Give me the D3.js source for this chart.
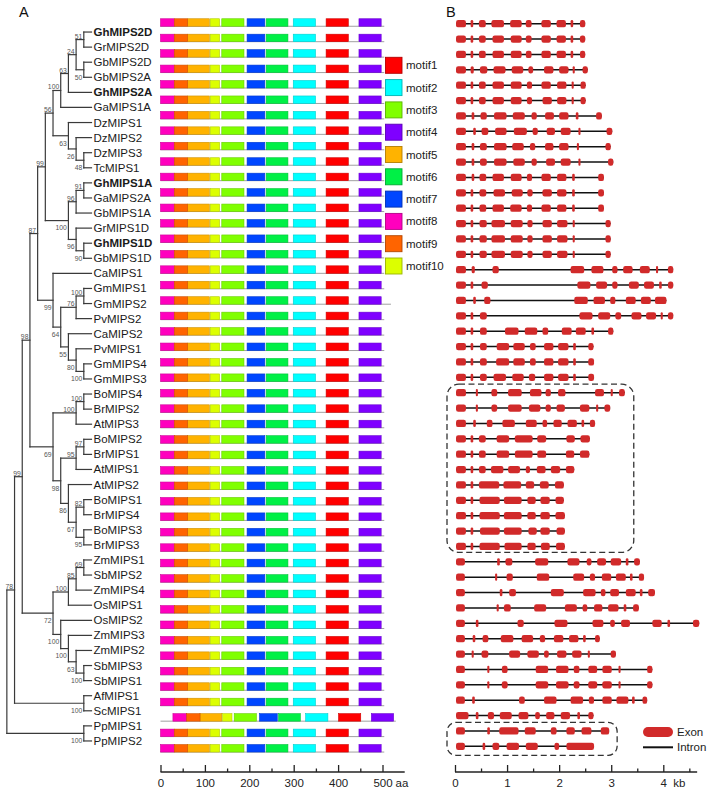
<!DOCTYPE html>
<html><head><meta charset="utf-8">
<script src="https://cdn.jsdelivr.net/npm/d3@7"></script>
<style>body{margin:0;background:#fff}svg{display:block;font-family:"Liberation Sans",Arial,sans-serif}</style>
</head><body><svg id="c" width="714" height="791"></svg>
<script>
// ---------------- DATA ----------------
const treeNewick = "(((((((((((GhMIPS2D,GrMIPS2D)51,(GbMIPS2D,GbMIPS2A)50)24,GhMIPS2A)63,GaMIPS1A)100,(DzMIPS1,(DzMIPS2,(DzMIPS3,TcMIPS1)48)26)63)56,(((GhMIPS1A,GaMIPS2A)91,GbMIPS1A)96,(GrMIPS1D,(GhMIPS1D,GbMIPS1D)90)96)100)99,(CaMIPS1,(((GmMIPS1,GmMIPS2)100,PvMIPS2)76,(CaMIPS2,(PvMIPS1,(GmMIPS4,GmMIPS3)100)80)55)64)99)87,(((BoMIPS4,BrMIPS2)100,AtMIPS3)100,(((BoMIPS2,BrMIPS1)97,AtMIPS1)95,(AtMIPS2,((BoMIPS1,BrMIPS4)82,(BoMIPS3,BrMIPS3)95)67)86)98)69)98,((((ZmMIPS1,SbMIPS2)69,ZmMIPS4)85,OsMIPS1)100,(OsMIPS2,(ZmMIPS3,(ZmMIPS2,(SbMIPS3,SbMIPS1)100)63)100)100)72)99,(AfMIPS1,ScMIPS1)100)78,(PpMIPS1,PpMIPS2)100);";
const boldTaxa = ["GhMIPS2D","GhMIPS2A","GhMIPS1A","GhMIPS1D"];

const motifNames  = ["motif1","motif2","motif3","motif4","motif5","motif6","motif7","motif8","motif9","motif10"];
const motifColors = ["#ff0000","#00ffff","#80ff00","#7f00ff","#ffb300","#00f046","#0046ff","#ff00be","#ff6400","#dcff00"];
const motifStart  = [373, 299, 138, 447,  61, 238, 195,  0, 31, 112];
const motifEnd    = [423, 349, 188, 497, 110, 287, 235, 31, 61, 133];
// protein length (aa) and motif shift (aa) for proteins that differ from the common layout
const proteinLength = {default: 504, GmMIPS2: 519, ScMIPS1: 530};
const motifShift    = {default: 0, ScMIPS1: 28};

const aaTicks = [0,100,200,300,400,500];
const aaMinor = [50,150,250,350,450];
const kbTicks = [0,1,2,3,4];
const kbMinor = [0.5,1.5,2.5,3.5,4.5];

const geneExons = {
GhMIPS2D:[[0.02,0.21],[0.30,0.35],[0.46,0.59],[0.70,0.94],[1.06,1.28],[1.36,1.47],[1.66,1.84],[1.95,2.13],[2.22,2.27],[2.40,2.50]],
GrMIPS2D:[[0.02,0.21],[0.30,0.35],[0.46,0.59],[0.72,0.94],[1.07,1.28],[1.36,1.47],[1.66,1.84],[1.95,2.13],[2.22,2.27],[2.40,2.50]],
GbMIPS2D:[[0.02,0.21],[0.30,0.35],[0.46,0.59],[0.72,0.94],[1.07,1.28],[1.36,1.47],[1.66,1.84],[1.95,2.13],[2.22,2.27],[2.40,2.50]],
GbMIPS2A:[[0.02,0.21],[0.30,0.36],[0.48,0.62],[0.74,0.97],[1.09,1.31],[1.41,1.50],[1.71,1.89],[2.00,2.18],[2.26,2.30],[2.45,2.55]],
GhMIPS2A:[[0.02,0.21],[0.30,0.35],[0.46,0.59],[0.72,0.94],[1.07,1.28],[1.38,1.48],[1.66,1.84],[1.96,2.14],[2.24,2.28],[2.41,2.51]],
GaMIPS1A:[[0.02,0.21],[0.30,0.35],[0.46,0.59],[0.72,0.94],[1.07,1.28],[1.38,1.48],[1.68,1.86],[1.96,2.14],[2.24,2.28],[2.41,2.51]],
DzMIPS1:[[0.02,0.21],[0.32,0.37],[0.49,0.61],[0.75,0.99],[1.11,1.34],[1.47,1.57],[1.73,1.90],[2.00,2.18],[2.32,2.37],[2.71,2.82]],
DzMIPS2:[[0.02,0.21],[0.35,0.40],[0.51,0.64],[0.77,0.99],[1.13,1.38],[1.49,1.59],[1.76,1.92],[2.03,2.22],[2.37,2.41],[2.91,3.02]],
DzMIPS3:[[0.02,0.21],[0.32,0.37],[0.48,0.61],[0.75,0.99],[1.10,1.32],[1.44,1.54],[1.73,1.89],[2.00,2.18],[2.34,2.38],[2.89,2.99]],
TcMIPS1:[[0.02,0.21],[0.32,0.37],[0.48,0.61],[0.75,0.99],[1.12,1.34],[1.47,1.57],[1.75,1.92],[2.03,2.22],[2.37,2.41],[2.94,3.04]],
GhMIPS1A:[[0.02,0.21],[0.32,0.37],[0.47,0.60],[0.72,0.94],[1.07,1.28],[1.38,1.48],[1.66,1.84],[1.96,2.14],[2.25,2.30],[2.75,2.86]],
GaMIPS2A:[[0.02,0.21],[0.30,0.35],[0.47,0.60],[0.74,0.96],[1.09,1.30],[1.39,1.49],[1.68,1.86],[1.96,2.14],[2.25,2.30],[2.75,2.86]],
GbMIPS1A:[[0.02,0.21],[0.30,0.35],[0.47,0.60],[0.72,0.94],[1.06,1.28],[1.38,1.48],[1.66,1.84],[1.96,2.14],[2.25,2.30],[2.75,2.86]],
GrMIPS1D:[[0.02,0.21],[0.30,0.35],[0.47,0.61],[0.70,0.96],[1.07,1.30],[1.39,1.49],[1.68,1.86],[1.96,2.16],[2.26,2.30],[2.89,2.99]],
GhMIPS1D:[[0.02,0.21],[0.30,0.35],[0.47,0.61],[0.70,0.96],[1.07,1.30],[1.39,1.49],[1.68,1.86],[1.96,2.16],[2.26,2.30],[2.89,2.99]],
GbMIPS1D:[[0.02,0.21],[0.30,0.35],[0.47,0.61],[0.70,0.96],[1.07,1.30],[1.39,1.49],[1.68,1.86],[1.96,2.16],[2.26,2.30],[2.89,2.99]],
CaMIPS1:[[0.02,0.21],[0.32,0.38],[0.72,0.84],[2.22,2.48],[2.62,2.85],[3.02,3.12],[3.23,3.41],[3.55,3.74],[3.86,3.90],[4.09,4.19]],
GmMIPS1:[[0.02,0.21],[0.30,0.35],[0.51,0.63],[2.35,2.60],[2.71,2.92],[3.02,3.12],[3.34,3.53],[3.63,3.82],[3.92,3.97],[4.09,4.19]],
GmMIPS2:[[0.02,0.21],[0.35,0.40],[0.56,0.68],[2.29,2.55],[2.66,2.88],[2.98,3.08],[3.28,3.47],[3.57,3.76],[3.84,4.06]],
PvMIPS2:[[0.02,0.21],[0.30,0.35],[0.48,0.61],[2.39,2.64],[2.75,2.98],[3.08,3.19],[3.39,3.58],[3.67,3.86],[3.95,3.99],[4.09,4.19]],
CaMIPS2:[[0.02,0.21],[0.30,0.35],[0.48,0.61],[0.96,1.22],[1.34,1.58],[1.68,1.79],[2.05,2.24],[2.32,2.51],[2.62,2.67],[2.94,3.04]],
PvMIPS1:[[0.02,0.21],[0.30,0.35],[0.48,0.61],[0.80,1.04],[1.12,1.34],[1.44,1.55],[1.71,1.89],[1.98,2.18],[2.27,2.32],[2.56,2.66]],
GmMIPS4:[[0.02,0.21],[0.30,0.35],[0.48,0.61],[0.79,1.04],[1.12,1.34],[1.44,1.55],[1.71,1.89],[1.98,2.18],[2.27,2.32],[2.56,2.67]],
GmMIPS3:[[0.02,0.21],[0.30,0.35],[0.48,0.61],[0.74,0.98],[1.10,1.32],[1.42,1.54],[1.71,1.89],[1.98,2.18],[2.27,2.32],[2.56,2.67]],
BoMIPS4:[[0.02,0.21],[0.40,0.44],[0.70,0.81],[1.02,1.28],[1.44,1.66],[1.74,1.84],[1.98,2.12],[2.69,2.86],[2.99,3.03],[3.15,3.26]],
BrMIPS2:[[0.02,0.21],[0.40,0.44],[0.70,0.81],[1.02,1.28],[1.42,1.64],[1.74,1.84],[1.95,2.11],[2.40,2.58],[2.71,2.75],[2.87,2.98]],
AtMIPS3:[[0.02,0.21],[0.35,0.40],[0.61,0.72],[0.91,1.15],[1.36,1.57],[1.68,1.77],[1.89,2.05],[2.16,2.34],[2.43,2.48],[2.59,2.69]],
BoMIPS2:[[0.02,0.21],[0.30,0.35],[0.46,0.59],[0.80,1.04],[1.15,1.49],[1.58,1.75],[2.14,2.30],[2.41,2.59]],
BrMIPS1:[[0.02,0.21],[0.30,0.35],[0.46,0.59],[0.80,1.04],[1.15,1.49],[1.58,1.75],[2.13,2.29],[2.40,2.58]],
AtMIPS1:[[0.02,0.21],[0.30,0.35],[0.46,0.59],[0.69,0.93],[1.02,1.25],[1.36,1.44],[1.57,1.74],[1.84,2.02],[2.13,2.29]],
AtMIPS2:[[0.02,0.21],[0.30,0.35],[0.46,0.85],[0.93,1.27],[1.36,1.52],[1.63,1.80],[1.92,2.09]],
BoMIPS1:[[0.02,0.21],[0.30,0.35],[0.47,0.86],[0.94,1.28],[1.39,1.55],[1.64,1.82],[1.93,2.09]],
BrMIPS4:[[0.02,0.21],[0.30,0.35],[0.47,0.86],[0.94,1.28],[1.39,1.55],[1.64,1.82],[1.93,2.11]],
BoMIPS3:[[0.02,0.21],[0.30,0.35],[0.48,0.86],[0.94,1.28],[1.41,1.57],[1.64,1.82],[1.95,2.11]],
BrMIPS3:[[0.02,0.21],[0.30,0.35],[0.47,0.86],[0.95,1.28],[1.39,1.55],[1.65,1.82],[1.94,2.11]],
ZmMIPS1:[[0.02,0.19],[0.81,0.86],[0.97,1.10],[1.54,1.79],[2.16,2.39],[2.53,2.62],[2.73,2.90],[2.99,3.19],[3.28,3.33],[3.44,3.55]],
SbMIPS2:[[0.02,0.19],[0.77,0.81],[0.99,1.11],[1.57,1.81],[2.27,2.48],[2.59,2.69],[2.82,3.00],[3.09,3.28],[3.36,3.41],[3.53,3.63]],
ZmMIPS4:[[0.02,0.19],[0.86,0.91],[1.04,1.17],[1.84,2.09],[2.46,2.70],[2.80,2.89],[2.98,3.15],[3.28,3.47],[3.55,3.60],[3.71,3.84]],
OsMIPS1:[[0.02,0.19],[0.80,0.84],[0.94,1.07],[1.52,1.75],[2.11,2.34],[2.45,2.54],[2.67,2.83],[2.94,3.14],[3.24,3.29],[3.42,3.53]],
OsMIPS2:[[0.02,0.19],[0.40,0.45],[1.20,1.32],[1.91,2.16],[2.64,2.85],[2.98,3.07],[3.19,3.36],[3.79,3.97],[4.08,4.13],[4.57,4.69]],
ZmMIPS3:[[0.02,0.19],[0.34,0.39],[0.53,0.64],[0.88,1.12],[1.28,1.50],[1.63,1.73],[1.90,2.08],[2.19,2.37],[2.46,2.51],[2.69,2.78]],
ZmMIPS2:[[0.02,0.19],[0.32,0.36],[0.51,0.64],[1.04,1.25],[1.39,1.61],[1.71,1.80],[1.96,2.14],[2.25,2.43],[2.55,2.59],[2.99,3.09]],
SbMIPS3:[[0.02,0.19],[0.62,0.66],[0.90,1.01],[1.55,1.79],[1.94,2.18],[2.28,2.39],[2.56,2.73],[2.83,3.01],[3.14,3.18],[3.69,3.79]],
SbMIPS1:[[0.02,0.19],[0.62,0.66],[0.90,1.01],[1.55,1.79],[1.94,2.18],[2.28,2.39],[2.56,2.73],[2.83,3.01],[3.14,3.18],[3.69,3.79]],
AfMIPS1:[[0.02,0.19],[0.33,0.38],[1.23,1.34],[1.71,1.95],[2.22,2.46],[2.57,2.67],[2.83,3.01],[3.10,3.33],[3.40,3.45],[3.60,3.69]],
ScMIPS1:[[0.02,0.26],[0.40,0.45],[0.63,0.75],[0.86,1.09],[1.22,1.41],[1.54,1.63],[1.75,1.91],[2.03,2.21],[2.35,2.40],[2.56,2.66]],
PpMIPS1:[[0.02,0.19],[0.62,0.67],[0.85,1.22],[1.34,1.55],[1.84,1.95],[2.14,2.30],[2.43,2.62],[2.80,2.96]],
PpMIPS2:[[0.02,0.19],[0.53,0.58],[0.72,0.85],[0.99,1.23],[1.36,1.59],[1.91,2.00],[2.14,2.67]]
};
const dashedGroups = [
  ["BoMIPS4","BrMIPS2","AtMIPS3","BoMIPS2","BrMIPS1","AtMIPS1","AtMIPS2","BoMIPS1","BrMIPS4","BoMIPS3","BrMIPS3"],
  ["PpMIPS1","PpMIPS2"]
];

// ---------------- LAYOUT ----------------
const svg = d3.select("#c");
const N = 48;
const textY = i => 24.5 + i * (748.5 - 24.5) / (N - 1);
const barY  = i => 22.5 + i * (748.3 - 22.5) / (N - 1);
const geneY = i => 23.7 + i * (746.3 - 23.7) / (N - 1);
const rootX = 6.85, tipX = 91.5;
const FONT = '"Liberation Sans",Arial,sans-serif';

function parseNewick(s) {
  let i = 0;
  function node() {
    const n = {};
    if (s[i] === "(") {
      i++; n.children = [];
      while (true) {
        n.children.push(node());
        if (s[i] === ",") { i++; continue; }
        break;
      }
      i++; // ')'
    }
    let label = "";
    while (i < s.length && !",();".includes(s[i])) label += s[i++];
    if (n.children) n.support = label; else n.name = label;
    return n;
  }
  return node();
}

const root = d3.hierarchy(parseNewick(treeNewick));
d3.cluster().separation(() => 1).size([textY(N - 1) - textY(0), tipX - rootX])(root);
root.each(d => { d.py = d.x + textY(0); d.px = rootX + d.y; });
const leaves = root.leaves();
const taxa = leaves.map(d => d.data.name);

// panel letters
svg.append("text").attr("x", 19).attr("y", 17).attr("font-size", 14.5).attr("fill", "#111").text("A");
svg.append("text").attr("x", 446).attr("y", 16.5).attr("font-size", 14.5).attr("fill", "#111").text("B");

// ---- tree ----
const gT = svg.append("g");
const treeColor = "#3a3a3a";
root.descendants().forEach(d => {
  if (d.parent) {
    gT.append("line").attr("x1", d.parent.px).attr("x2", d.px).attr("y1", d.py).attr("y2", d.py)
      .attr("stroke", treeColor).attr("stroke-width", 1.2).attr("stroke-linecap", "square");
  }
  if (d.children) {
    const c = d.children;
    gT.append("line").attr("x1", d.px).attr("x2", d.px).attr("y1", c[0].py).attr("y2", c[c.length - 1].py)
      .attr("stroke", treeColor).attr("stroke-width", 1.2).attr("stroke-linecap", "square");
    if (d.data.support) {
      const first = !d.parent || d.parent.children[0] === d;
      gT.append("text").attr("x", d.px - 1.5).attr("y", first ? d.py - 1 : d.py + 9.8)
        .attr("text-anchor", "end").attr("font-size", 6.8).attr("fill", "#555").text(d.data.support);
    }
  }
});
leaves.forEach((d, i) => {
  gT.append("text").attr("x", tipX + 2).attr("y", d.py).attr("dy", "0.35em")
    .attr("font-size", 11.5).attr("fill", "#1a1a1a")
    .attr("font-weight", boldTaxa.includes(d.data.name) ? "bold" : "normal")
    .text(d.data.name);
});

// ---- motifs ----
const xAA = d3.scaleLinear().domain([0, 500]).range([160.5, 382.5]);
const gM = svg.append("g");
const barH = 7.5;
taxa.forEach((name, i) => {
  const cy = barY(i);
  const len = proteinLength[name] ?? proteinLength.default;
  const sh = motifShift[name] ?? motifShift.default;
  gM.append("line").attr("x1", xAA(0)).attr("x2", xAA(len)).attr("y1", cy + barH / 2).attr("y2", cy + barH / 2)
    .attr("stroke", "#a0a0a0").attr("stroke-width", 1);
  motifNames.forEach((m, k) => {
    gM.append("rect").attr("x", xAA(motifStart[k] + sh)).attr("width", xAA(motifEnd[k]) - xAA(motifStart[k]))
      .attr("y", cy - barH / 2).attr("height", barH)
      .attr("fill", motifColors[k]).attr("stroke", d3.color(motifColors[k]).darker(0.6)).attr("stroke-width", 0.6);
  });
});
// motif legend
motifNames.forEach((m, k) => {
  const y0 = 57.3 + k * 22.3;
  gM.append("rect").attr("x", 385.5).attr("y", y0).attr("width", 16.5).attr("height", 16)
    .attr("fill", motifColors[k]).attr("stroke", d3.color(motifColors[k]).darker(1)).attr("stroke-width", 0.9);
  gM.append("text").attr("x", 406).attr("y", y0 + 8).attr("dy", "0.35em").attr("font-size", 11.5).attr("fill", "#222").text(m);
});

// axes
function drawAxis(scale, ticks, minor, y, x1, unit, unitDx) {
  const g = svg.append("g").attr("transform", `translate(0,${y})`);
  g.append("line").attr("x1", scale(0)).attr("x2", x1).attr("stroke", "#222").attr("stroke-width", 1.3);
  const ax = d3.axisBottom(scale).tickValues(ticks).tickFormat(d3.format("d"))
    .tickSizeInner(-7).tickSizeOuter(0).tickPadding(7);
  const ga = g.append("g").call(ax);
  ga.select(".domain").remove();
  ga.selectAll(".tick line").attr("stroke", "#222").attr("stroke-width", 1.3);
  ga.selectAll(".tick text").attr("font-size", 11.5).attr("fill", "#222").attr("font-family", FONT);
  const gm = g.append("g").call(d3.axisBottom(scale).tickValues(minor).tickSizeInner(-3.5).tickSizeOuter(0).tickFormat(""));
  gm.select(".domain").remove();
  gm.selectAll(".tick line").attr("stroke", "#222").attr("stroke-width", 1.3);
  g.append("text").attr("x", scale(ticks[ticks.length - 1]) + unitDx).attr("y", 7).attr("dy", "0.71em")
    .attr("font-size", 11.5).attr("fill", "#222").text(unit);
}
drawAxis(xAA, aaTicks, aaMinor, 772, xAA(550), "aa", 13);

// ---- gene structures ----
const xKb = d3.scaleLinear().domain([0, 4]).range([455, 663.3]);
const gG = svg.append("g");
const exonColor = "#d12a2a";
const exH = 7.3;
taxa.forEach((name, i) => {
  const ex = geneExons[name];
  const cy = geneY(i);
  gG.append("line").attr("x1", xKb(ex[0][0])).attr("x2", xKb(ex[ex.length - 1][1])).attr("y1", cy).attr("y2", cy)
    .attr("stroke", "#111").attr("stroke-width", 1.4);
  ex.forEach(e => {
    const w = xKb(e[1]) - xKb(e[0]);
    gG.append("rect").attr("x", xKb(e[0])).attr("width", w).attr("y", cy - exH / 2).attr("height", exH)
      .attr("rx", Math.min(2.2, w / 2)).attr("fill", exonColor);
  });
});
drawAxis(xKb, kbTicks, kbMinor, 772, xKb(4.65), "kb", 10);

// dashed group boxes
dashedGroups.forEach((grp, gi) => {
  const idx = grp.map(n => taxa.indexOf(n));
  const maxKb = d3.max(grp, n => d3.max(geneExons[n], e => e[1]));
  const top = geneY(d3.min(idx)) - 8.5;
  const bot = geneY(d3.max(idx)) + (gi === 0 ? 6 : 9);
  const left = xKb(0) - 8;
  const right = xKb(maxKb) + (gi === 0 ? 9 : 8);
  gG.append("rect").attr("x", left).attr("y", top).attr("width", right - left).attr("height", bot - top)
    .attr("rx", gi === 0 ? 12 : 9).attr("fill", "none").attr("stroke", "#333").attr("stroke-width", 1.3)
    .attr("stroke-dasharray", "6,3.5");
});

// gene legend
gG.append("rect").attr("x", 643).attr("y", 727).attr("width", 30).attr("height", 10).attr("rx", 5).attr("fill", exonColor);
gG.append("text").attr("x", 677).attr("y", 732).attr("dy", "0.35em").attr("font-size", 11.5).attr("fill", "#222").text("Exon");
gG.append("line").attr("x1", 643).attr("x2", 673).attr("y1", 747.3).attr("y2", 747.3).attr("stroke", "#111").attr("stroke-width", 2);
gG.append("text").attr("x", 677).attr("y", 747.3).attr("dy", "0.35em").attr("font-size", 11.5).attr("fill", "#222").text("Intron");
</script></body></html>
